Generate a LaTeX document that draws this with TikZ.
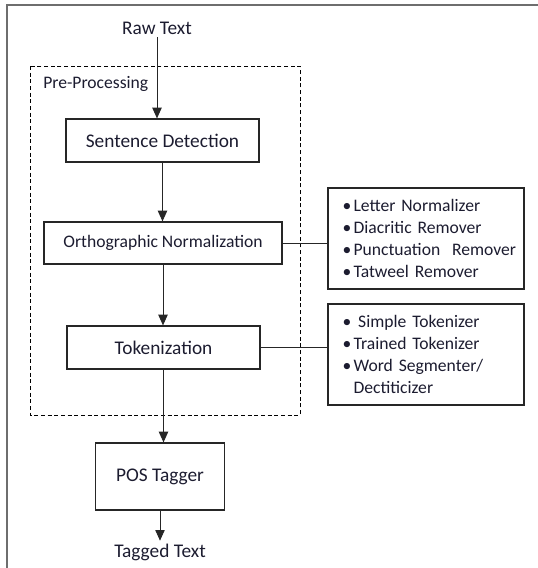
\documentclass[tikz,border=0pt]{standalone}
\usepackage{fontspec}
\setmainfont{Carlito}
\usetikzlibrary{arrows.meta}

\definecolor{txtcol}{RGB}{28,28,48}
\definecolor{framecol}{RGB}{110,110,110}
\newcommand{\blt}{\textbullet\kern1.6pt}

\begin{document}
\begin{tikzpicture}[x=0.75pt,y=0.75pt,yscale=-1,xscale=1,
  every node/.style={text=txtcol},
  bigfont/.style={font=\fontsize{14.5}{17}\selectfont},
  smallfont/.style={font=\fontsize{13.2}{16.7}\selectfont},
  stagebox/.style={draw=black!85,line width=0.9pt,inner sep=0pt},
  listbox/.style={draw=black!85,line width=0.9pt,smallfont,align=left,
    text width=125pt,inner xsep=11pt,inner ysep=0pt,minimum width=147pt,minimum height=75.75pt},
  flow/.style={draw=black!85,line width=0.75pt,-{Triangle[width=7pt,length=8pt]}},
  link/.style={draw=black!85,line width=0.7pt}]
\useasboundingbox (0,0) rectangle (538,568);

%Outer frame (cut by the page)
\draw [color=framecol,line width=1.1pt] (7,568) -- (7,5) -- (538,5) ;
%Dashed group
\draw [line width=0.7pt,dash pattern=on 3pt off 2pt] (30,66) rectangle (300,415) ;

% Text Node
\node [bigfont,inner sep=2pt] (raw) at (157,28) {Raw Text};
% Text Node
\node [smallfont,anchor=west,inner sep=0pt] (prelbl) at (43,84) {Pre-Processing};

%Shape: Rectangle
\node [stagebox,bigfont,minimum width=144.75pt,minimum height=32.25pt] (sent) at (162.5,140.5) {Sentence Detection};
%Shape: Rectangle
\node [stagebox,smallfont,minimum width=178.5pt,minimum height=31.5pt] (ortho) at (163,243) {Orthographic Normalization};
%Shape: Rectangle
\node [stagebox,bigfont,minimum width=144.75pt,minimum height=32.25pt] (tok) at (163.5,347.5) {Tokenization};
%Shape: Rectangle
\node [stagebox,bigfont,minimum width=96.75pt,minimum height=50.25pt] (pos) at (160,476.5) {POS Tagger};
% Text Node
\node [bigfont,inner sep=2pt] (tagged) at (160,552) {Tagged Text};

%Shape: Rectangle
\node [listbox] (normlist) at (426,238.5) {%
\mbox{\blt Letter Normalizer}\\
\mbox{\blt Diacritic Remover}\\
\mbox{\blt Punctuation\ \ Remover}\\
\mbox{\blt Tatweel Remover}};
%Shape: Rectangle
\node [listbox] (toklist) at (426,354.5) {%
\mbox{\blt\kern3.5pt Simple Tokenizer}\\
\mbox{\blt Trained Tokenizer}\\
\mbox{\blt Word Segmenter/}\\
\mbox{\hphantom{\blt}Dectiticizer}};

%Straight Lines
\draw [flow] (raw.south) -- (raw.south |- sent.north) ;
\draw [flow] (sent.south) -- (sent.south |- ortho.north) ;
\draw [flow] (ortho.south) -- (ortho.south |- tok.north) ;
\draw [flow] (tok.south) -- (tok.south |- pos.north) ;
\draw [flow] (pos.south) -- (pos.south |- tagged.north) ;
\draw [link] (ortho.east) -- (ortho.east -| normlist.west) ;
\draw [link] (tok.east) -- (tok.east -| toklist.west) ;

\end{tikzpicture}
\end{document}
